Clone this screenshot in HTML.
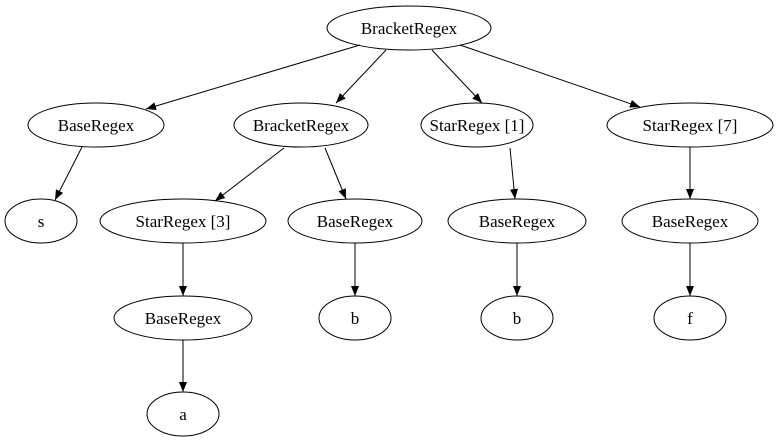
<!DOCTYPE html>
<html><head><style>html,body{margin:0;padding:0;background:#fff}svg{display:block}</style></head>
<body>
<svg width="777" height="443" viewBox="0 0 777 443" xmlns="http://www.w3.org/2000/svg">
<defs>
<marker id="ar" markerUnits="userSpaceOnUse" markerWidth="11" markerHeight="8" refX="10" refY="4" orient="auto">
<path d="M0,0 L10,4 L0,8 Z" fill="#000"/>
</marker>
</defs>
<g fill="none" stroke="#000" stroke-width="1">
<ellipse cx="409" cy="28" rx="82" ry="22"/>
<ellipse cx="96" cy="125" rx="68" ry="22"/>
<ellipse cx="301" cy="125" rx="67" ry="22"/>
<ellipse cx="477" cy="125" rx="56" ry="22"/>
<ellipse cx="690" cy="125" rx="83" ry="22"/>
<ellipse cx="41" cy="221" rx="36" ry="22"/>
<ellipse cx="183" cy="221" rx="83" ry="22"/>
<ellipse cx="355" cy="221" rx="67" ry="22"/>
<ellipse cx="517" cy="221" rx="69" ry="22"/>
<ellipse cx="690" cy="221" rx="68" ry="22"/>
<ellipse cx="183" cy="318" rx="69" ry="22"/>
<ellipse cx="355" cy="318" rx="36" ry="22"/>
<ellipse cx="517" cy="318" rx="36" ry="22"/>
<ellipse cx="690" cy="318" rx="36" ry="22"/>
<ellipse cx="183" cy="414" rx="36" ry="22"/>
</g>
<g stroke="#000" stroke-width="1" marker-end="url(#ar)">
<line x1="360" y1="45" x2="146" y2="109"/>
<line x1="386" y1="50" x2="336" y2="103"/>
<line x1="432" y1="50" x2="482" y2="103"/>
<line x1="460" y1="45" x2="640" y2="107"/>
<line x1="82" y1="147" x2="55" y2="200"/>
<line x1="284" y1="148" x2="215" y2="201"/>
<line x1="325" y1="148" x2="346" y2="199"/>
<line x1="510" y1="148" x2="515" y2="199"/>
<line x1="690" y1="147" x2="690" y2="199"/>
<line x1="183" y1="243" x2="183" y2="296"/>
<line x1="355" y1="243" x2="355" y2="296"/>
<line x1="517" y1="243" x2="517" y2="296"/>
<line x1="690" y1="243" x2="690" y2="296"/>
<line x1="183" y1="340" x2="183" y2="392"/>
</g>
<g font-family="Liberation Serif, serif" font-size="17" text-anchor="middle" fill="#000">
<text x="409" y="34">BracketRegex</text>
<text x="96" y="131">BaseRegex</text>
<text x="301" y="131">BracketRegex</text>
<text x="477" y="131">StarRegex [1]</text>
<text x="690" y="131">StarRegex [7]</text>
<text x="41" y="227">s</text>
<text x="183" y="227">StarRegex [3]</text>
<text x="355" y="227">BaseRegex</text>
<text x="517" y="227">BaseRegex</text>
<text x="690" y="227">BaseRegex</text>
<text x="183" y="324">BaseRegex</text>
<text x="355" y="324">b</text>
<text x="517" y="324">b</text>
<text x="690" y="324">f</text>
<text x="183" y="420">a</text>
</g>
</svg>
</body></html>
